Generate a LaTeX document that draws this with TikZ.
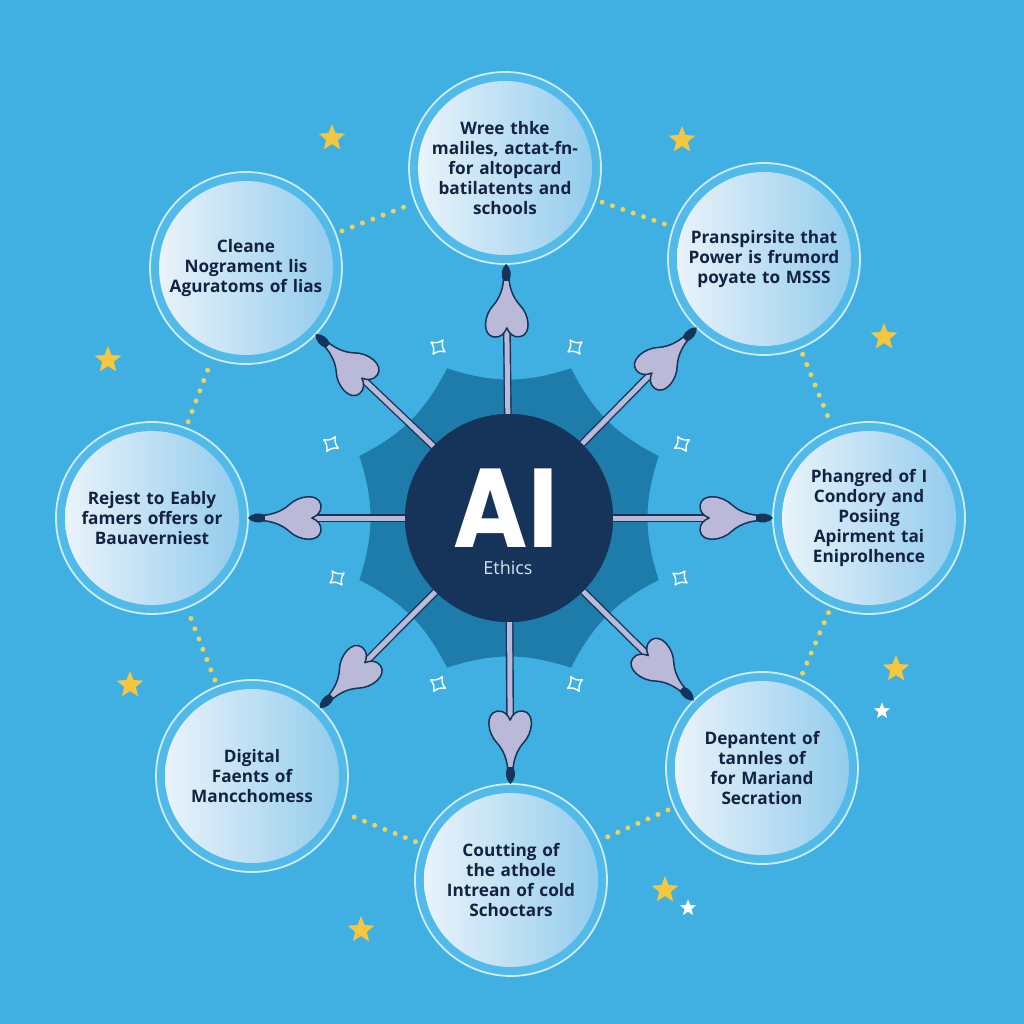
\documentclass[tikz,border=0pt]{standalone}
\usepackage{fontspec}
\usepackage{graphicx}
\setmainfont{Open Sans}
\newfontfamily\popfont{Poppins}
\usetikzlibrary{shapes.geometric,decorations.markings}
\definecolor{bg}{RGB}{64,176,226}
\definecolor{burst}{RGB}{30,124,170}
\definecolor{navy}{RGB}{22,52,90}
\definecolor{ink}{RGB}{20,34,66}
\definecolor{ring}{RGB}{82,186,233}
\definecolor{rimline}{RGB}{205,236,250}
\definecolor{fillL}{RGB}{238,245,251}
\definecolor{fillR}{RGB}{142,202,236}
\definecolor{lav}{RGB}{186,186,216}
\definecolor{dotc}{RGB}{238,210,90}
\definecolor{stary}{RGB}{246,198,62}
\definecolor{ethicsc}{RGB}{214,226,238}

\newcommand\headshape{%
  \filldraw[fill=lav, draw=navy, line width=1.5pt, line join=round]
    (-12,2.5) .. controls (-22,3) and (-32,6) .. (-40,13)
    .. controls (-50,23) and (-70,25) .. (-72,13)
    .. controls (-73,6) and (-68,2) .. (-63,0)
    .. controls (-68,-2) and (-73,-6) .. (-72,-13)
    .. controls (-70,-25) and (-50,-23) .. (-40,-13)
    .. controls (-32,-6) and (-22,-3) .. (-12,-2.5) -- cycle;
  \fill[navy] (1,0) .. controls (-3,4.5) and (-10,6) .. (-16,3)
    -- (-16,-3) .. controls (-10,-6) and (-3,-4.5) .. (1,0) -- cycle;}

\tikzset{
  topic/.style={circle, minimum size=192pt, inner sep=0pt, fill=ring,
    draw=rimline, line width=1.8pt, text=ink, text width=156pt, align=center,
    font=\fontsize{17.2}{20}\selectfont\bfseries,
    path picture={\shade[left color=fillL, right color=fillR]
      (path picture bounding box.center) circle (87pt);}},
  shaft/.style={draw=navy, line width=1.4pt, double=lav, double distance=5pt,
    shorten >=55pt},
  headmark/.style={decoration={markings, mark=at position 1 with {\headshape}},
    decorate},
  dotline/.style={draw=dotc, line width=5pt, line cap=round,
    dash pattern=on 0pt off 11pt, shorten <=6pt, shorten >=6pt},
  ystar/.style={star, star points=5, star point ratio=2.3, fill=stary,
    minimum size=28pt, inner sep=0pt},
  wstar/.style={star, star points=5, star point ratio=2.3, fill=white,
    minimum size=17pt, inner sep=0pt},
  sparkle/.pic={\draw[white, line width=1.4pt, line join=round]
    (-6,-6) to[bend right=25] (6,-6) to[bend right=25] (6,6)
    to[bend right=25] (-6,6) to[bend right=25] (-6,-6) -- cycle;}
}

\begin{document}
\begin{tikzpicture}[x=1pt, y=-1pt]
\fill[bg] (0,0) rectangle (1024,1024);
\useasboundingbox (0,0) rectangle (1024,1024);

\coordinate (ctr) at (509,518);

% starburst
\begin{scope}[shift={(509,518)}]
\fill[burst] (22.5:162) to[bend right=18] (67.5:162) to[bend right=18] (112.5:162)
  to[bend right=18] (157.5:162) to[bend right=18] (202.5:162) to[bend right=18] (247.5:162)
  to[bend right=18] (292.5:162) to[bend right=18] (337.5:162) to[bend right=18] (22.5:162) -- cycle;
\end{scope}

\node[circle, fill=navy, minimum size=208pt, inner sep=0pt] (ai) at (ctr) {};

\node[topic] (c1) at (505,168) {Wree thke\\ maliles, actat-fn-\\ for altopcard\\ batilatents and\\ schools};
\node[topic] (c2) at (764,259) {Pranspirsite that\\ Power is frumord\\ poyate to MSSS};
\node[topic] (c3) at (869,518) {Phangred of I\\ Condory and\\ Posiing\\ Apirment tai\\ Eniprolhence};
\node[topic] (c4) at (762,768) {Depantent of\\ tannles of\\ for Mariand\\ Secration};
\node[topic] (c5) at (511,880) {Coutting of\\ the athole\\ Intrean of cold\\ Schoctars};
\node[topic] (c6) at (252,776) {Digital\\ Faents of\\ Mancchomess};
\node[topic] (c7) at (152,518) {Rejest to Eably\\ famers offers or\\ Bauaverniest};
\node[topic] (c8) at (246,268) {Cleane\\ Nograment lis\\ Aguratoms of lias};

% dotted ring
\foreach \a/\b in {c1/c2,c2/c3,c3/c4,c4/c5,c5/c6,c6/c7,c7/c8,c8/c1}
  \draw[dotline] (\a) -- (\b);

% shafts
\foreach \t in {c1,c2,c3,c4,c5,c6,c7,c8}
  \draw[shaft] (ai) -- (\t);

% center disc over shaft starts
\fill[navy] (ai.center) circle (104pt);
\node[font=\popfont\bfseries\fontsize{112}{112}\selectfont, text=white, anchor=base,
  inner sep=0pt, text depth=0pt] (ailbl) at (506,547) {\scalebox{0.9}[1]{AI}};
\node[font=\fontsize{18}{18}\selectfont, text=ethicsc, anchor=base, inner sep=0pt]
  (ethlbl) at (508,574) {Ethics};

% heads
\foreach \t in {c1,c2,c3,c4,c5,c6,c7,c8}
  \path[headmark] (ai) -- (\t);

% sparkles
\pic[rotate=10] at (438,347) {sparkle};
\pic[rotate=-10] at (575,347) {sparkle};
\pic[rotate=15] at (331,444) {sparkle};
\pic[rotate=-15] at (682,444) {sparkle};
\pic[rotate=-10] at (337,578) {sparkle};
\pic[rotate=10] at (680,578) {sparkle};
\pic[rotate=15] at (438,684) {sparkle};
\pic[rotate=-15] at (575,684) {sparkle};

% stars
\node[ystar] (s1) at (332,138) {};
\node[ystar] (s2) at (682,140) {};
\node[ystar] (s3) at (108,360) {};
\node[ystar] (s4) at (884,337) {};
\node[ystar] (s5) at (130,685) {};
\node[ystar] (s6) at (896,669) {};
\node[ystar] (s7) at (665,890) {};
\node[ystar] (s8) at (361,930) {};
\node[wstar] (w1) at (882,711) {};
\node[wstar] (w2) at (688,908) {};
\end{tikzpicture}
\end{document}
